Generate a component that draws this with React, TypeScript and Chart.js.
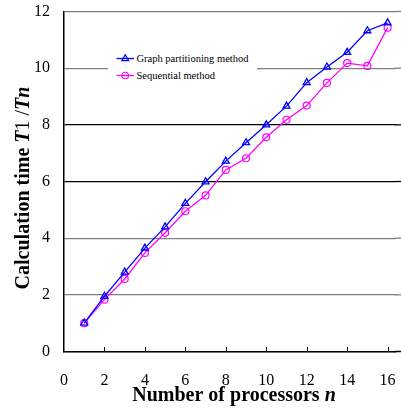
import React, { useEffect, useRef } from "react";
import { Chart, registerables } from "chart.js";

Chart.register(...registerables);

const processors = [1, 2, 3, 4, 5, 6, 7, 8, 9, 10, 11, 12, 13, 14, 15, 16];
const graphPartitioning = [1.0, 1.95, 2.8, 3.65, 4.4, 5.23, 5.99, 6.72, 7.37, 8.0, 8.66, 9.49, 10.04, 10.56, 11.32, 11.6];
const sequential = [1.0, 1.83, 2.56, 3.48, 4.19, 4.95, 5.51, 6.41, 6.82, 7.56, 8.18, 8.68, 9.48, 10.18, 10.08, 11.43];
const xTicks = [0, 2, 4, 6, 8, 10, 12, 14, 16];
const yTicks = [0, 2, 4, 6, 8, 10, 12];
const seriesNames = ["Graph partitioning method", "Sequential method"];
const xTitle = "Number of processors n";
const yTitle = "Calculation time T1 /Tn";

const xTitleParts = [
  { text: "Number of processors ", bold: true, italic: false },
  { text: "n", bold: true, italic: true },
];
const yTitleParts = [
  { text: "Calculation time ", bold: true, italic: false },
  { text: "T", bold: true, italic: true },
  { text: "1", bold: false, italic: false },
  { text: " /", bold: false, italic: false },
  { text: "Tn", bold: true, italic: true },
];

const SERIF = '"Liberation Serif", "Times New Roman", serif';

const gridColor = (v: number) => (v === 6 || v === 8 ? "#000" : "#808080");

function partFont(p: { bold: boolean; italic: boolean }, size: number) {
  return `${p.italic ? "italic " : ""}${p.bold ? "bold " : ""}${size}px ${SERIF}`;
}

function drawParts(ctx: CanvasRenderingContext2D, parts: any[], size: number) {
  let total = 0;
  for (const p of parts) {
    ctx.font = partFont(p, size);
    total += ctx.measureText(p.text).width;
  }
  let x = -total / 2;
  for (const p of parts) {
    ctx.font = partFont(p, size);
    ctx.fillText(p.text, x, 0);
    x += ctx.measureText(p.text).width;
  }
}

const customPlugin = {
  id: "customDecor",
  beforeDatasetsDraw(chart: any) {
    // extend horizontal gridlines to the right edge of the canvas
    const ctx: CanvasRenderingContext2D = chart.ctx;
    const ys = chart.scales.y;
    const area = chart.chartArea;
    ctx.save();
    ctx.lineWidth = 1.3;
    for (const v of yTicks) {
      if (v === 0) continue;
      const py = ys.getPixelForValue(v);
      ctx.strokeStyle = gridColor(v);
      ctx.beginPath();
      ctx.moveTo(area.right - 1, py);
      ctx.lineTo(chart.width, py);
      ctx.stroke();
    }
    ctx.restore();
  },
  afterDraw(chart: any) {
    const ctx: CanvasRenderingContext2D = chart.ctx;
    const xs = chart.scales.x;
    const area = chart.chartArea;
    ctx.save();
    ctx.strokeStyle = "#000";
    ctx.lineWidth = 1.5;
    ctx.beginPath();
    ctx.moveTo(area.right - 1, area.bottom);
    ctx.lineTo(chart.width, area.bottom);
    ctx.stroke();
    ctx.lineWidth = 1;
    for (const v of xTicks) {
      if (v === 0) continue;
      const px = Math.round(xs.getPixelForValue(v)) + 0.5;
      ctx.beginPath();
      ctx.moveTo(px, area.bottom);
      ctx.lineTo(px, area.bottom - 4.5);
      ctx.stroke();
    }
    ctx.fillStyle = "#000";
    ctx.textBaseline = "alphabetic";
    ctx.save();
    ctx.translate(234, 401);
    drawParts(ctx, xTitleParts, 20);
    ctx.restore();
    ctx.save();
    ctx.translate(29, 188);
    ctx.rotate(-Math.PI / 2);
    drawParts(ctx, yTitleParts, 20);
    ctx.restore();
    ctx.restore();
  },
};

export default function App() {
  const ref = useRef<HTMLCanvasElement>(null);
  useEffect(() => {
    document.body.style.margin = "0";
    const chart = new Chart(ref.current as HTMLCanvasElement, {
      type: "line",
      data: {
        datasets: [
          {
            label: seriesNames[0],
            data: processors.map((p, i) => ({ x: p, y: graphPartitioning[i] })),
            borderColor: "#0000ff",
            backgroundColor: "rgba(0,0,0,0)",
            borderWidth: 1.3,
            pointStyle: "triangle",
            pointRadius: 4,
            pointBorderWidth: 1.3,
            pointBorderColor: "#0000ff",
            pointBackgroundColor: "rgba(0,0,0,0)",
            tension: 0,
            clip: false,
          },
          {
            label: seriesNames[1],
            data: processors.map((p, i) => ({ x: p, y: sequential[i] })),
            borderColor: "#ff00ff",
            backgroundColor: "rgba(0,0,0,0)",
            borderWidth: 1.3,
            pointStyle: "circle",
            pointRadius: 3.5,
            pointBorderWidth: 1.2,
            pointBorderColor: "#ff00ff",
            pointBackgroundColor: "rgba(0,0,0,0)",
            tension: 0,
            clip: false,
          },
        ],
      },
      options: {
        responsive: false,
        animation: false,
        devicePixelRatio: 1,
        layout: { padding: 0 },
        plugins: {
          legend: { display: false },
          tooltip: { enabled: false },
        },
        scales: {
          x: {
            type: "linear",
            min: 0,
            max: 16.4,
            afterBuildTicks: (s: any) => {
              s.ticks = xTicks.map((v) => ({ value: v }));
            },
            afterFit: (s: any) => {
              s.height = 58.5;
              s.paddingLeft = 0;
              s.paddingRight = 0;
            },
            grid: { display: false, drawTicks: false },
            border: { display: true, color: "#000", width: 1.5 },
            title: { display: false, text: xTitle },
            ticks: {
              padding: 20,
              color: "#000",
              font: { family: SERIF, size: 16 },
              maxRotation: 0,
              autoSkip: false,
            },
          },
          y: {
            type: "linear",
            min: 0,
            max: 12,
            afterBuildTicks: (s: any) => {
              s.ticks = yTicks.map((v) => ({ value: v }));
            },
            afterFit: (s: any) => {
              s.width = 64;
              s.paddingTop = 11.5;
              s.paddingBottom = 0;
            },
            grid: {
              drawTicks: false,
              lineWidth: 1.3,
              color: (c: any) => (c.tick ? gridColor(c.tick.value) : "#808080"),
            },
            border: { display: true, color: "#000", width: 1.5 },
            title: { display: false, text: yTitle },
            ticks: {
              padding: 14,
              color: "#000",
              font: { family: SERIF, size: 16 },
            },
          },
        },
      },
      plugins: [customPlugin],
    } as any);
    return () => chart.destroy();
  }, []);

  return (
    <div style={{ position: "relative", width: 401, height: 410, background: "#fff" }}>
      <canvas ref={ref} width={401} height={410} style={{ display: "block", width: 401, height: 410 }} />
      <div
        style={{
          position: "absolute",
          left: 108,
          top: 49,
          width: 149,
          height: 35,
          background: "#fff",
          fontFamily: SERIF,
          fontSize: 10.5,
          color: "#000",
        }}
      >
        {seriesNames.map((name, i) => (
          <div
            key={name}
            style={{
              position: "absolute",
              left: 8,
              top: i === 0 ? 0.5 : 17.5,
              height: 17,
              display: "flex",
              alignItems: "center",
              whiteSpace: "nowrap",
            }}
          >
            <svg width={20} height={17} style={{ display: "block" }}>
              <line
                x1={0.5}
                y1={8.5}
                x2={18}
                y2={8.5}
                stroke={i === 0 ? "#0000ff" : "#ff00ff"}
                strokeWidth={1.3}
              />
              {i === 0 ? (
                <polygon points="9.25,4.8 12.6,10.6 5.9,10.6" fill="none" stroke="#0000ff" strokeWidth={1.2} />
              ) : (
                <circle cx={9.25} cy={8.5} r={3.3} fill="none" stroke="#ff00ff" strokeWidth={1.1} />
              )}
            </svg>
            <span style={{ marginLeft: 0.5 }}>{name}</span>
          </div>
        ))}
      </div>
    </div>
  );
}
